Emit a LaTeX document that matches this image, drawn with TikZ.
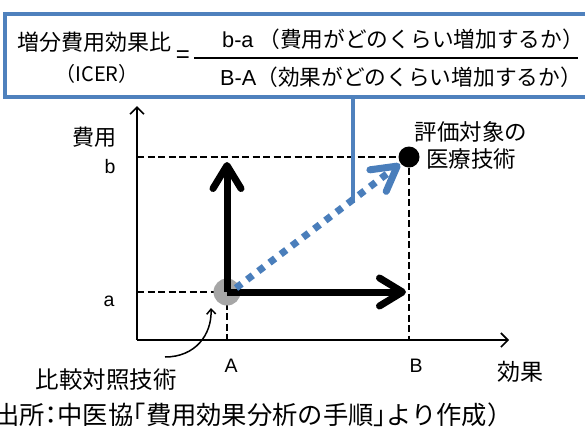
\documentclass[tikz,border=0pt]{standalone}
\usepackage{fontspec}
\setmainfont{Liberation Sans}
\newfontfamily\jp{Noto Sans CJK JP}
\newfontfamily\jph[RawFeature=+halt]{Noto Sans CJK JP}
\usetikzlibrary{arrows.meta}
\definecolor{boxblue}{HTML}{4F81BD}
\definecolor{dotblue}{HTML}{4A7EBB}
\begin{document}
\begin{tikzpicture}[x=1pt,y=-1pt,
  axisline/.style={line width=1.6pt,-{Straight Barb[length=7pt,width=14pt]}},
  guide/.style={line width=1.8pt,dash pattern=on 7pt off 3.5pt},
  bigarrow/.style={line width=7pt,-{Straight Barb[length=23pt,width=28pt,round]}},
  blueline/.style={draw=boxblue,line width=3.2pt},
  lbl/.style={inner sep=0pt,font=\fontsize{19.5}{22}\selectfont},
  jlbl/.style={inner sep=0pt,font=\jp\fontsize{22}{26}\selectfont}]
\useasboundingbox (0,0) rectangle (585,429);
% formula box
\draw[blueline] (5,14) rectangle (595,97);
\node[jlbl,font=\jp\fontsize{22}{26}\selectfont] (ratio) at (94,42) {増分費用効果比};
\node[jlbl,font=\jp\fontsize{20}{26}\selectfont] (icer) at (97,74) {（ICER）};
\node[lbl,font=\fontsize{24}{26}\selectfont] (eq) at (183,57) {=};
\coordinate (fl) at (194,58);
\coordinate (fr) at (578,58);
\draw[line width=2.4pt] (fl) -- (fr);
\node[jlbl,anchor=west,font=\jp\fontsize{21.7}{26}\selectfont] (num) at (222,39) {{\fontspec{Liberation Sans}b-a}\ （費用がどのくらい増加するか）};
\node[jlbl,anchor=west,font=\jp\fontsize{21.7}{26}\selectfont] (den) at (220,77) {{\fontspec{Liberation Sans}B-A}（効果がどのくらい増加するか）};
% points
\coordinate (O) at (137,340);
\coordinate (P) at (227,292);
\coordinate (Q) at (409,157);
\coordinate (Pa) at (137,292);
\coordinate (Qb) at (137,157);
\coordinate (PA) at (227,340);
\coordinate (QB) at (409,340);
\coordinate (yend) at (137,106);
\coordinate (xend) at (509,340);
% guides
\draw[guide] (Qb) -- (Q);
\draw[guide] (Q) -- (QB);
\draw[guide] (Pa) -- (P);
\draw[guide] (P) -- (PA);
% axes
\draw[axisline] (O) -- (yend);
\draw[axisline] (O) -- (xend);
% gray circle
\fill[black!35] (P) circle (13.5);
% blue connector
\coordinate (conn) at (353,97);
\coordinate (connend) at (353,203);
\draw[blueline] (conn) -- (connend);
% arrows
\coordinate (Pt) at (227,162);
\coordinate (Pr) at (406,292);
\draw[bigarrow] (P) -- (Pt);
\draw[bigarrow] (P) -- (Pr);
\coordinate (Bs) at (236,288);
\coordinate (Be) at (400,164);
\draw[dotblue,line width=7pt,dash pattern=on 7pt off 7pt,-{Straight Barb[length=24pt,width=27pt,round]}] (Bs) -- (Be);
\fill (Q) circle (10.5);
% labels
\node[jlbl] (cost) at (94,137) {費用};
\node[jlbl,font=\jp\fontsize{23}{26}\selectfont] (eff) at (520,372) {効果};
\node[lbl] (lb) at (110,167) {b};
\node[lbl] (la) at (109,301) {a};
\node[lbl] (lA) at (231,366) {A};
\node[lbl] (lB) at (416,366) {B};
\node[jlbl,align=center,font=\jp\fontsize{22.5}{27}\selectfont] (target) at (471,145) {評価対象の\\医療技術};
\node[jlbl,font=\jp\fontsize{23.5}{26}\selectfont] (comp) at (106,380) {比較対照技術};
\draw[line width=1.5pt,-{Straight Barb[length=5pt,width=9pt]}] (165,357) .. controls (195,357) and (212,335) .. (211,308);
\node[jlbl,anchor=west,font=\jph\fontsize{25.3}{30}\selectfont] (src) at (-6,415) {出所：中医協「費用効果分析の手順」より作成）};
\end{tikzpicture}
\end{document}
